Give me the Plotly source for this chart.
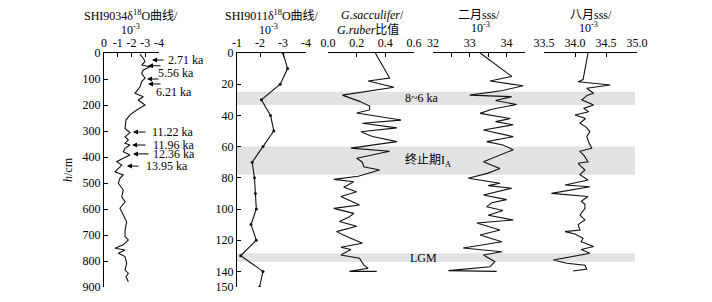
import plotly.graph_objects as go

W, H = 712, 302

# ---------------- data ----------------
# Panel 1: SHI9034 d18O (x 10^-3) vs depth (cm)
p1_depth = [4, 20, 33, 46, 53, 65, 78, 97, 110, 130, 155, 168, 181, 200, 219, 238, 258,
            290, 306, 322, 335, 347, 354, 367, 380, 392, 405, 418, 431, 457, 469, 482,
            501, 527, 553, 572, 597, 623, 649, 681, 706, 719, 738, 751, 758, 770, 783,
            809, 835, 847, 860, 880]
p1_d18o = [-2.62, -2.86, -2.98, -2.74, -3.35, -2.86, -2.74, -2.98, -2.74, -2.62, -2.25,
           -2.86, -2.49, -2.98, -2.38, -1.89, -1.60, -1.53, -1.89, -1.53, -1.77, -1.53,
           -1.89, -1.53, -1.40, -1.89, -1.40, -0.92, -1.29, -0.80, -1.40, -1.16, -1.04,
           -1.40, -1.29, -1.53, -1.16, -1.40, -1.65, -1.53, -1.53, -1.77, -1.40, -0.80,
           -1.53, -1.04, -1.53, -1.65, -1.53, -1.77, -1.60, -1.77]

# Panel 2: SHI9011 d18O
p2_depth = [0, 10, 20, 30, 40, 50, 60, 70, 80, 90, 100, 110, 120, 130, 140, 150]
p2_d18o = [-3.0, -3.2, -2.88, -2.06, -2.46, -2.6, -2.13, -1.66, -1.76, -1.8, -1.84,
           -1.61, -1.84, -1.16, -2.13, -1.98]

# Panel 3: G.sacculifer / G.ruber ratio
p3_depth = [0, 16, 18, 22, 27, 31, 34, 36.5, 38.5, 43, 45, 48, 50.5, 53.5, 56.8, 61,
            63, 67.5, 70, 73, 75, 79, 81, 82.5, 86, 89, 92, 97.4, 99.6, 102.8, 105,
            108, 111, 114.5, 117.7, 122, 124.5, 126, 129.5, 131.6, 136, 138, 140, 140]
p3_ratio = [0.33, 0.43, 0.28, 0.46, 0.10, 0.22, 0.29, 0.29, 0.20, 0.51, 0.24, 0.48,
            0.23, 0.31, 0.48, 0.16, 0.43, 0.20, 0.24, 0.25, 0.36, 0.21, 0.04, 0.18,
            0.11, 0.20, 0.09, 0.22, 0.04, 0.18, 0.15, 0.08, 0.20, 0.06, 0.13, 0.24,
            0.09, 0.16, 0.09, 0.22, 0.25, 0.28, 0.15, 0.34]

# Panel 4: February SSS
p4_depth = [0, 15, 18, 21, 24, 27, 28, 30.5, 33, 36, 38.7, 42, 44, 46, 49.4, 53.6,
            56.8, 59, 62, 65.4, 69.7, 72, 74, 77, 80.3, 83.5, 85, 86.7, 91, 94, 96,
            98.5, 101, 104, 107, 109, 113.5, 116.7, 121, 125, 127.4, 129.5, 133.8,
            137, 139.5, 140]
p4_sss = [33.28, 34.14, 33.55, 34.45, 33.9, 33.0, 34.14, 33.7, 34.27, 33.6, 33.28,
          34.1, 33.7, 34.18, 33.37, 34.18, 33.46, 33.9, 34.18, 33.82, 33.37, 33.6,
          33.82, 33.5, 32.96, 33.82, 33.5, 34.14, 33.37, 34.0, 33.6, 33.46, 33.9,
          33.5, 34.18, 33.19, 33.82, 33.28, 33.87, 32.82, 33.87, 33.37, 33.68, 33.55,
          32.42, 33.73]

# Panel 5: August SSS
p5_depth = [0, 17, 18.4, 20.5, 22.6, 25.8, 27, 30, 33.3, 35.5, 37.6, 39.7, 42, 45,
            47.5, 50.4, 53.6, 57, 61, 63, 66, 69.7, 70.7, 75, 78, 81.4, 84.6, 85.7,
            90, 92, 95, 97, 99.6, 104, 107, 110, 113.5, 114.5, 116, 118.8, 121, 124,
            126, 128.4, 132.7, 134.8, 136, 138.5, 139.7]
p5_sss = [34.21, 34.13, 34.05, 34.57, 34.19, 34.3, 34.2, 34.11, 34.3, 34.14, 34.22,
          34.0, 34.17, 34.08, 34.18, 34.24, 34.19, 34.22, 34.27, 34.08, 34.15, 34.21,
          34.05, 34.16, 34.08, 34.21, 33.84, 34.24, 33.62, 34.21, 34.1, 34.16, 34.16,
          34.08, 34.16, 34.05, 34.08, 33.84, 34.0, 34.13, 34.1, 34.3, 34.1, 34.24,
          33.65, 33.87, 34.16, 34.19, 33.97]

# Shaded intervals (depth cm)
band_names = ["8~6 ka", "终止期I<sub>A</sub>", "LGM"]
band_top = [24.8, 60, 128.4]
band_bot = [33.3, 78, 133.8]

# Age control arrows on panel 1 (d18O, depth)
age_tip_val = [-3.49, -3.2, -3.13, -3.2, -2.11, -2.04, -2.11, -1.67]
age_tip_depth = [27, 49, 100, 119, 304, 354, 388, 435]
age_labels = ["2.71 ka", "5.56 ka", "6.21 ka", "11.22 ka", "11.96 ka", "12.36 ka", "13.95 ka"]

# Tick labels
p1_ticks = [0, -1, -2, -3, -4]
p1_ticktext = ["0", "-1", "-2", "-3", "-4"]
p1_yticks = list(range(0, 1000, 100))
p2_ticks = [-1, -2, -3, -4]
p2_ticktext = ["-1", "-2", "-3", "-4"]
p2_yticks = [0, 20, 40, 60, 80, 100, 120, 140, 150]
p3_ticks = [0.0, 0.2, 0.4, 0.6]
p3_ticktext = ["0.0", "0.2", "0.4", "0.6"]
p4_ticks = [32, 33, 34]
p4_ticktext = ["32", "33", "34"]
p4_minor = [32.5, 33.5, 34.5]
p5_ticks = [33.5, 34.0, 34.5, 35.0]
p5_ticktext = ["33.5", "34.0", "34.5", "35.0"]

# ---------------- layout helpers ----------------
def px(x):
    return x / W

def py(y):
    return 1 - y / H

SERIF = "Liberation Serif, Times New Roman, Noto Sans CJK SC, serif"
CJK = "Liberation Serif, Noto Sans CJK SC, serif"
TFONT = dict(family=SERIF, size=12, color="black")

ydom = [py(287), py(53)]

fig = go.Figure()
line = dict(color="#111111", width=1.1)
fig.add_trace(go.Scatter(x=p1_d18o, y=p1_depth, mode="lines", line=line, xaxis="x", yaxis="y"))
fig.add_trace(go.Scatter(x=p2_d18o, y=p2_depth, mode="lines+markers", line=line,
                         marker=dict(size=3, color="#111111"), xaxis="x2", yaxis="y2"))
fig.add_trace(go.Scatter(x=p3_ratio, y=p3_depth, mode="lines", line=line, xaxis="x3", yaxis="y3"))
fig.add_trace(go.Scatter(x=p4_sss, y=p4_depth, mode="lines", line=line, xaxis="x4", yaxis="y4"))
fig.add_trace(go.Scatter(x=p5_sss, y=p5_depth, mode="lines", line=line, xaxis="x5", yaxis="y5"))

def xax(dom, rng, tv, tt, anchor, minor=None):
    d = dict(domain=[px(dom[0]), px(dom[1])], range=rng, side="top", anchor=anchor,
             showline=True, linecolor="black", linewidth=1, ticks="inside",
             ticklen=4, tickcolor="black", tickvals=tv, ticktext=tt,
             showgrid=False, zeroline=False, tickfont=TFONT, fixedrange=True,
             automargin=False)
    if minor is not None:
        d["minor"] = dict(tickvals=minor, ticks="inside", ticklen=4, tickcolor="black",
                          showgrid=False)
    return d

def yax(rng, tv, anchor, visible=True):
    d = dict(domain=ydom, range=rng, anchor=anchor, showgrid=False, zeroline=False,
             fixedrange=True, automargin=False)
    if visible:
        d.update(showline=True, linecolor="black", linewidth=1, ticks="inside",
                 ticklen=4, tickcolor="black", tickvals=tv, tickfont=TFONT)
    else:
        d.update(visible=False)
    return d

shapes = []
for t, b in zip(band_top, band_bot):
    shapes.append(dict(type="rect", xref="paper", yref="y2", x0=px(237), x1=px(635),
                       y0=t, y1=b, fillcolor="#e2e2e2", line=dict(width=0), layer="below"))

annotations = []
# band labels
for name, t, b, xc in zip(band_names, band_top, band_bot, [422, 428, 423]):
    annotations.append(dict(text=name, xref="paper", yref="y2", x=px(xc), y=(t + b) / 2,
                            showarrow=False, font=dict(family=CJK, size=12, color="black")))

# arrows on panel 1
arrow_len = [13, 14, 13, 14, 14, 15, 17, 13]
for v, d, L in zip(age_tip_val, age_tip_depth, arrow_len):
    annotations.append(dict(x=v, y=d, xref="x", yref="y", text="", showarrow=True,
                            ax=L, ay=0, arrowhead=2, arrowsize=1, arrowwidth=1,
                            arrowcolor="black"))
label_pos = [(166, 60), (156, 73), (154, 92), (150, 132), (151, 145), (151, 154), (144, 166)]
for lab, (lx, ly) in zip(age_labels, label_pos):
    annotations.append(dict(text=lab, xref="paper", yref="paper", x=px(lx), y=py(ly),
                            xanchor="left", yanchor="middle", showarrow=False,
                            font=dict(family=SERIF, size=12, color="black")))

# titles
titles = [
    ("SHI9034δ<sup>18</sup>O曲线/", 131, 15),
    ("10<sup>-3</sup>", 130, 29),
    ("SHI9011δ<sup>18</sup>O曲线/", 272, 15),
    ("10<sup>-3</sup>", 268, 29),
    ("<i>G.sacculifer</i>/", 372, 15),
    ("<i>G.ruber</i>比值", 368, 29),
    ("二月sss/", 479, 15),
    ("10<sup>-3</sup>", 480, 27),
    ("八月sss/", 591, 15),
    ("10<sup>-3</sup>", 588, 27),
]
for txt, x, y in titles:
    annotations.append(dict(text=txt, xref="paper", yref="paper", x=px(x), y=py(y),
                            xanchor="center", yanchor="middle", showarrow=False,
                            font=dict(family=CJK, size=12, color="black")))
annotations.append(dict(text="<i>h</i>/cm", xref="paper", yref="paper", x=px(68), y=py(170),
                        textangle=-90, showarrow=False, xanchor="center", yanchor="middle",
                        font=dict(family=SERIF, size=12, color="black")))

fig.update_layout(
    width=W, height=H, margin=dict(l=0, r=0, t=0, b=0, pad=0, autoexpand=False),
    paper_bgcolor="white", plot_bgcolor="rgba(0,0,0,0)", showlegend=False,
    xaxis=xax((104, 159), [0, -4], p1_ticks, p1_ticktext, "y"),
    yaxis=yax([900, 0], p1_yticks, "x"),
    xaxis2=xax((237, 306), [-1, -4], p2_ticks, p2_ticktext, "y2"),
    yaxis2=yax([150, 0], p2_yticks, "x2"),
    xaxis3=xax((328, 414), [0, 0.6], p3_ticks, p3_ticktext, "y3"),
    yaxis3=yax([150, 0], None, "x3", visible=False),
    xaxis4=xax((433, 525), [32, 34.5], p4_ticks, p4_ticktext, "y4", minor=p4_minor),
    yaxis4=yax([150, 0], None, "x4", visible=False),
    xaxis5=xax((544, 637), [33.5, 35.0], p5_ticks, p5_ticktext, "y5"),
    yaxis5=yax([150, 0], None, "x5", visible=False),
    shapes=shapes, annotations=annotations,
)

fig.write_html("out.html", config={"displayModeBar": False},
               post_script="document.body.style.margin='0';document.body.style.overflow='hidden';")
